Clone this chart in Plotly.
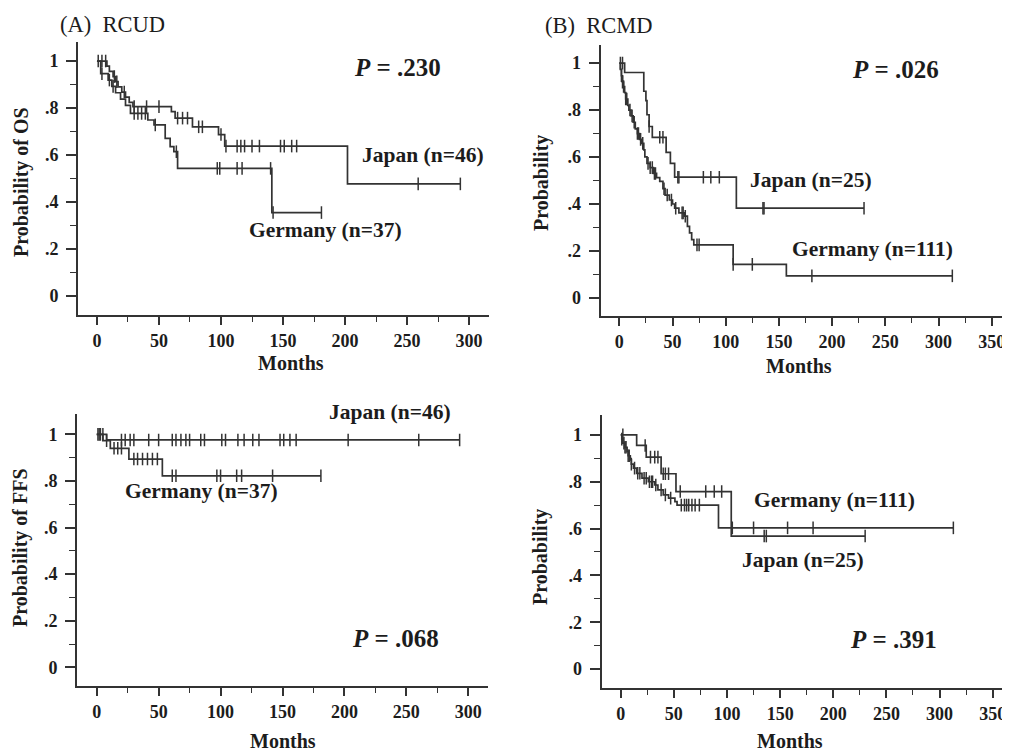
import numpy as np
import plotly.graph_objects as go

# The page adds an 8 px body margin, so the figure is drawn 8 px in and 8 px down.
OFF = 8
W, H = 1010 - OFF, 751 - OFF

# ---------------- Panel A: RCUD, overall survival ----------------
A_JPN_TIMES = [0, 8, 10, 13, 15, 17, 20, 23, 26, 29, 60, 63, 77, 98, 103, 202]
A_JPN_SURV = [1.0, 0.978, 0.956, 0.934, 0.912, 0.89, 0.868, 0.846, 0.824, 0.806,
              0.785, 0.757, 0.72, 0.687, 0.638, 0.477]
A_JPN_END = 293
A_JPN_CENS = [1, 4, 7, 14, 16, 22, 30, 40, 50, 65, 69, 73, 82, 85, 100, 104,
              113, 116, 119, 125, 131, 148, 151, 157, 161, 259, 293]

A_GER_TIMES = [0, 3, 9, 12, 15, 19, 23, 27, 41, 46, 55, 59, 62, 65, 141]
A_GER_SURV = [1.0, 0.946, 0.919, 0.892, 0.865, 0.838, 0.811, 0.777, 0.749, 0.728,
              0.671, 0.636, 0.614, 0.543, 0.355]
A_GER_END = 181
A_GER_CENS = [4, 10, 13, 30, 33, 36, 39, 47, 64, 97, 99, 113, 117, 140, 142, 181]

# ---------------- Panel B: RCMD, overall survival ----------------
B_JPN_TIMES = [0, 5, 23, 25, 26, 28, 31, 44, 48, 52, 110]
B_JPN_SURV = [1.0, 0.96, 0.88, 0.84, 0.78, 0.73, 0.684, 0.62, 0.573, 0.514, 0.382]
B_JPN_END = 230
B_JPN_CENS = [1, 3, 28, 38, 41, 55, 56, 79, 86, 94, 135, 136, 230]

B_GER_TIMES = [0, 1, 2, 3, 4, 5, 6, 8, 9, 11, 13, 15, 17, 19, 21, 23, 24, 26, 29,
               32, 35, 38, 41, 43, 47, 50, 52, 56, 61, 64, 66, 68, 70, 107, 157]
B_GER_SURV = [1.0, 0.973, 0.946, 0.919, 0.9, 0.874, 0.847, 0.82, 0.8, 0.775, 0.748,
              0.72, 0.7, 0.675, 0.658, 0.63, 0.601, 0.573, 0.555, 0.53, 0.512, 0.496,
              0.465, 0.438, 0.417, 0.4, 0.382, 0.362, 0.348, 0.305, 0.277, 0.248,
              0.226, 0.143, 0.094]
B_GER_END = 313
B_GER_CENS = [2, 3, 4, 6, 7, 10, 12, 14, 17, 18, 20, 22, 27, 29, 31, 33, 34, 42, 45,
              49, 53, 59, 60, 62, 73, 75, 107, 125, 181, 313]

# ---------------- Panel C: RCUD, failure-free survival ----------------
C_JPN_TIMES = [0, 8]
C_JPN_SURV = [1.0, 0.976]
C_JPN_END = 293
C_JPN_CENS = [1, 3, 5, 20, 23, 27, 30, 42, 50, 61, 64, 68, 72, 75, 84, 87, 101, 104,
              114, 119, 126, 131, 148, 151, 156, 161, 203, 260, 293]

C_GER_TIMES = [0, 5, 11, 26, 53]
C_GER_SURV = [1.0, 0.973, 0.94, 0.894, 0.822]
C_GER_END = 181
C_GER_CENS = [2, 8, 14, 17, 20, 30, 33, 37, 41, 45, 49, 61, 64, 97, 100, 113, 117,
              142, 181]

# ---------------- Panel D: RCMD, failure-free survival ----------------
D_JPN_TIMES = [0, 15, 24, 38, 52, 104]
D_JPN_SURV = [1.0, 0.955, 0.905, 0.834, 0.758, 0.568]
D_JPN_END = 230
D_JPN_CENS = [2, 23, 28, 32, 35, 40, 42, 45, 56, 80, 88, 95, 135, 137, 230]

D_GER_TIMES = [0, 1, 2, 4, 6, 7, 9, 10, 12, 15, 20, 26, 32, 35, 40, 45, 51, 53, 92]
D_GER_SURV = [1.0, 0.982, 0.965, 0.947, 0.929, 0.911, 0.893, 0.875, 0.858, 0.836,
              0.815, 0.80, 0.786, 0.765, 0.744, 0.73, 0.715, 0.70, 0.603]
D_GER_END = 313
D_GER_CENS = [1, 3, 4, 5, 7, 8, 10, 13, 16, 18, 22, 24, 27, 29, 30, 33, 38, 42, 47,
              57, 60, 62, 64, 67, 70, 74, 105, 125, 157, 181, 313]

Y_TICKS = [0, 0.2, 0.4, 0.6, 0.8, 1.0]
Y_TICK_TEXT = ["0", ".2", ".4", ".6", ".8", "1"]
X_TICKS_A = [0, 50, 100, 150, 200, 250, 300]
X_TICKS_B = [0, 50, 100, 150, 200, 250, 300, 350]

LINE = "#333333"
TXT = "#1c1c1c"
SERIF = "Liberation Serif, Times New Roman, serif"


def px(x):
    return (x - OFF) / W


def py(y):
    return 1 - (y - OFF) / H


def km_traces(times, surv, end, cens, xa, ya):
    xs = list(times) + [end]
    ys = list(surv) + [surv[-1]]
    t_arr = np.array(times, dtype=float)
    s_arr = np.array(surv, dtype=float)
    c = np.array(cens, dtype=float)
    idx = np.searchsorted(t_arr, c, side="right") - 1
    cy = s_arr[idx]
    return [
        go.Scatter(x=xs, y=ys, mode="lines", line=dict(color=LINE, width=1.7, shape="hv"),
                   xaxis=xa, yaxis=ya, showlegend=False, hoverinfo="skip"),
        go.Scatter(x=c, y=cy, mode="markers",
                   marker=dict(symbol="line-ns-open", size=9, color=LINE,
                               line=dict(color=LINE, width=1.5)),
                   xaxis=xa, yaxis=ya, showlegend=False, hoverinfo="skip"),
    ]


fig = go.Figure()
panels = [
    ("x", "y", (A_JPN_TIMES, A_JPN_SURV, A_JPN_END, A_JPN_CENS),
     (A_GER_TIMES, A_GER_SURV, A_GER_END, A_GER_CENS)),
    ("x2", "y2", (B_JPN_TIMES, B_JPN_SURV, B_JPN_END, B_JPN_CENS),
     (B_GER_TIMES, B_GER_SURV, B_GER_END, B_GER_CENS)),
    ("x3", "y3", (C_JPN_TIMES, C_JPN_SURV, C_JPN_END, C_JPN_CENS),
     (C_GER_TIMES, C_GER_SURV, C_GER_END, C_GER_CENS)),
    ("x4", "y4", (D_JPN_TIMES, D_JPN_SURV, D_JPN_END, D_JPN_CENS),
     (D_GER_TIMES, D_GER_SURV, D_GER_END, D_GER_CENS)),
]
for xa, ya, jp, ge in panels:
    for tr in km_traces(*jp, xa, ya):
        fig.add_trace(tr)
    for tr in km_traces(*ge, xa, ya):
        fig.add_trace(tr)

tickfont = dict(family=SERIF, size=18, color=TXT, weight="bold")


def xaxis(dom, rng, ticks, anchor):
    return dict(domain=dom, range=rng, anchor=anchor, showline=True, linecolor=LINE,
                linewidth=2, ticks="outside", ticklen=8, tickwidth=1.5, tickcolor=LINE,
                tickvals=ticks, ticktext=[str(t) for t in ticks], tickfont=tickfont,
                showgrid=False, zeroline=False, ticklabeloverflow="allow",
                minor=dict(dtick=25, tick0=0, ticks="outside", ticklen=5, tickwidth=1.2,
                           tickcolor=LINE, showgrid=False))


def yaxis(dom, rng, anchor):
    return dict(domain=dom, range=rng, anchor=anchor, showline=True, linecolor=LINE,
                linewidth=2, ticks="outside", ticklen=10, tickwidth=1.5, tickcolor=LINE,
                tickvals=Y_TICKS, ticktext=Y_TICK_TEXT, tickfont=tickfont,
                ticklabelstandoff=4, showgrid=False, zeroline=False,
                minor=dict(dtick=0.1, tick0=0, ticks="outside", ticklen=6, tickwidth=1.2,
                           tickcolor=LINE, showgrid=False))


fig.update_layout(
    width=W, height=H, margin=dict(l=0, r=0, t=0, b=0),
    paper_bgcolor="white", plot_bgcolor="white", showlegend=False,
    xaxis=xaxis([px(78), px(489)], [-15.3, 316.1], X_TICKS_A, "y"),
    yaxis=yaxis([py(315), py(42)], [-0.081, 1.081], "x"),
    xaxis2=xaxis([px(600.7), 1.0], [-17.5, 367.2], X_TICKS_B, "y2"),
    yaxis2=yaxis([py(316), py(45)], [-0.077, 1.077], "x2"),
    xaxis3=xaxis([px(77), px(488)], [-15.9, 315.9], X_TICKS_A, "y3"),
    yaxis3=yaxis([py(686), py(414.3)], [-0.080, 1.086], "x3"),
    xaxis4=xaxis([px(601.7), 1.0], [-17.9, 366.3], X_TICKS_B, "y4"),
    yaxis4=yaxis([py(688), py(415)], [-0.081, 1.085], "x4"),
)


def note(text, x, y, size=21.5, anchor="left", bold=True, angle=0):
    f = dict(family=SERIF, size=size, color=TXT)
    if bold:
        f["weight"] = "bold"
    fig.add_annotation(text=text, x=px(x), y=py(y), xref="paper", yref="paper",
                       xanchor=anchor, yanchor="middle", showarrow=False, font=f,
                       textangle=angle)


# Panel titles
note("(A)  RCUD", 58, 24, size=22.5, bold=False)
note("(B)  RCMD", 543, 25, size=22.5, bold=False)

# P values
note("<i>P</i> = .230", 352, 67, size=25)
note("<i>P</i> = .026", 850, 70, size=25)
note("<i>P</i> = .068", 350, 638, size=25)
note("<i>P</i> = .391", 848, 639, size=25)

# Curve labels
note("Japan (n=46)", 360, 155)
note("Germany (n=37)", 247, 230)
note("Japan (n=25)", 748, 180)
note("Germany (n=111)", 790, 249)
note("Japan (n=46)", 327, 412)
note("Germany (n=37)", 123, 491)
note("Germany (n=111)", 752, 500)
note("Japan (n=25)", 740, 560)

# Axis titles
note("Probability of OS", 21, 182, size=20, anchor="center", angle=-90)
note("Probability", 541, 183, size=20, anchor="center", angle=-90)
note("Probability of FFS", 20, 548, size=20, anchor="center", angle=-90)
note("Probability", 540, 557, size=20, anchor="center", angle=-90)
note("Months", 291, 363, size=20, anchor="center")
note("Months", 799, 366, size=20, anchor="center")
note("Months", 283, 741, size=20, anchor="center")
note("Months", 790, 741, size=20, anchor="center")

fig.write_html("out.html")
